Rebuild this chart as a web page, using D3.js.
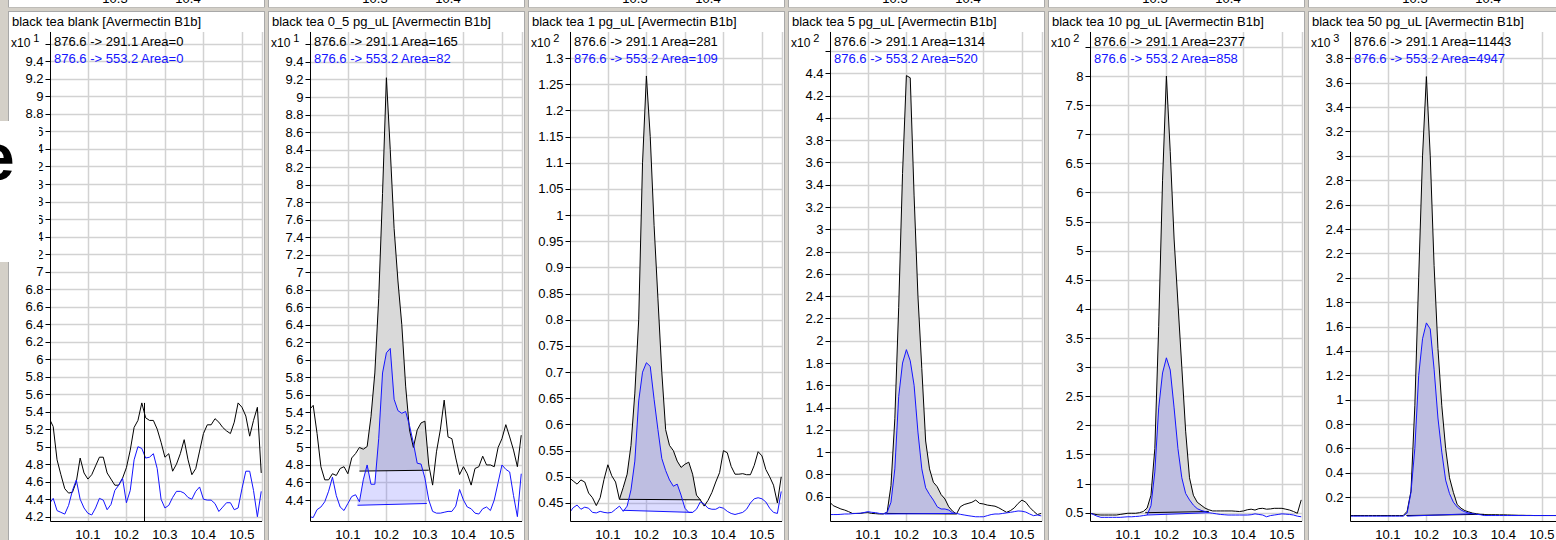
<!DOCTYPE html>
<html lang="en">
<head>
  <meta charset="UTF-8">
  <title>Avermectin B1b - black tea chromatograms</title>
  <script src="https://d3js.org/d3.v7.min.js"></script>
  <style>
    body { margin: 0; background: #d4d0c8; }
    svg { display: block; font-family: "Liberation Sans", Arial, sans-serif; }
  </style>
</head>
<body>
<div id="chart"></div>
<script>
  // retention time grid (min)
  const times = [10.00, 10.01, 10.02, 10.03, 10.04, 10.05, 10.06, 10.07, 10.08, 10.09,
                 10.10, 10.11, 10.12, 10.13, 10.14, 10.15, 10.16, 10.17, 10.18, 10.19,
                 10.20, 10.21, 10.22, 10.23, 10.24, 10.25, 10.26, 10.27, 10.28, 10.29,
                 10.30, 10.31, 10.32, 10.33, 10.34, 10.35, 10.36, 10.37, 10.38, 10.39,
                 10.40, 10.41, 10.42, 10.43, 10.44, 10.45, 10.46, 10.47, 10.48, 10.49,
                 10.50, 10.51, 10.52, 10.53, 10.54, 10.55];

  const titles = ["black tea blank [Avermectin B1b]", "black tea 0_5 pg_uL [Avermectin B1b]",
                  "black tea 1 pg_uL [Avermectin B1b]", "black tea 5 pg_uL [Avermectin B1b]",
                  "black tea 10 pg_uL [Avermectin B1b]", "black tea 50 pg_uL [Avermectin B1b]"];
  const exponents = [1, 1, 2, 2, 2, 3];
  const quantTransition = "876.6 -> 291.1";
  const qualTransition = "876.6 -> 553.2";
  const quantAreas = [0, 165, 281, 1314, 2377, 11443];
  const qualAreas = [0, 82, 109, 520, 858, 4947];

  // 876.6 -> 291.1 (black) and 876.6 -> 553.2 (blue) traces
  const black1 = [5.32, 5.23, 4.85, 4.68, 4.52, 4.47, 4.48, 4.60, 4.87, 4.70,
                  4.63, 4.68, 4.78, 4.88, 4.88, 4.70, 4.63, 4.56, 4.56, 4.64,
                  4.76, 4.96, 5.22, 5.30, 5.50, 5.33, 5.30, 5.30, 5.20, 5.05,
                  4.88, 4.92, 4.72, 4.80, 4.92, 5.08, 4.85, 4.68, 4.75, 4.95,
                  5.15, 5.25, 5.25, 5.32, 5.28, 5.22, 5.18, 5.15, 5.28, 5.50,
                  5.45, 5.35, 5.12, 5.30, 5.45, 4.70];
  const blue1 = [4.35, 4.41, 4.27, 4.25, 4.23, 4.33, 4.50, 4.62, 4.40, 4.30,
                 4.24, 4.22, 4.30, 4.41, 4.39, 4.28, 4.34, 4.50, 4.56, 4.64,
                 4.36, 4.50, 4.85, 5.00, 4.98, 4.87, 4.88, 4.92, 4.75, 4.40,
                 4.30, 4.33, 4.42, 4.49, 4.49, 4.47, 4.42, 4.40, 4.49, 4.54,
                 4.40, 4.39, 4.39, 4.35, 4.26, 4.31, 4.36, 4.36, 4.28, 4.30,
                 4.52, 4.72, 4.72, 4.50, 4.20, 4.49];

  const black2 = [5.43, 5.48, 5.16, 4.78, 4.63, 4.63, 4.70, 4.68, 4.76, 4.78,
                  4.70, 4.88, 4.93, 5.00, 4.98, 5.01, 5.35, 5.85, 6.70, 7.90,
                  9.22, 8.40, 7.50, 6.90, 6.40, 5.70, 5.20, 5.00, 5.20, 5.28,
                  5.30, 4.80, 4.57, 4.95, 5.20, 5.54, 5.12, 5.10, 4.88, 4.69,
                  4.78, 4.70, 4.57, 4.76, 4.78, 4.90, 4.80, 4.80, 4.78, 5.00,
                  5.10, 5.26, 5.12, 4.97, 4.78, 5.14];
  const blue2 = [4.21, 4.20, 4.29, 4.32, 4.38, 4.50, 4.66, 4.45, 4.32, 4.28,
                 4.36, 4.44, 4.46, 4.38, 4.63, 4.80, 4.58, 4.58, 5.10, 5.85,
                 6.08, 6.13, 5.55, 5.42, 5.39, 5.41, 5.25, 5.05, 4.82, 4.81,
                 4.65, 4.40, 4.27, 4.25, 4.25, 4.26, 4.27, 4.27, 4.33, 4.52,
                 4.40, 4.32, 4.30, 4.25, 4.24, 4.30, 4.32, 4.28, 4.40, 4.60,
                 4.80, 4.75, 4.72, 4.45, 4.21, 4.70];

  const black3 = [0.498, 0.492, 0.486, 0.494, 0.490, 0.469, 0.460, 0.445, 0.460, 0.495,
                  0.523, 0.502, 0.490, 0.457, 0.480, 0.505, 0.560, 0.660, 0.800, 1.100,
                  1.266, 1.150, 0.980, 0.840, 0.700, 0.590, 0.560, 0.550, 0.530, 0.518,
                  0.524, 0.528, 0.505, 0.465, 0.456, 0.444, 0.455, 0.470, 0.490, 0.508,
                  0.550, 0.546, 0.520, 0.505, 0.505, 0.506, 0.504, 0.504, 0.522, 0.548,
                  0.540, 0.514, 0.500, 0.484, 0.450, 0.500];
  const blue3 = [0.431, 0.441, 0.446, 0.438, 0.442, 0.440, 0.432, 0.431, 0.434, 0.432,
                 0.431, 0.432, 0.438, 0.444, 0.434, 0.444, 0.475, 0.530, 0.645, 0.700,
                 0.718, 0.711, 0.648, 0.590, 0.535, 0.512, 0.494, 0.482, 0.486, 0.465,
                 0.440, 0.432, 0.432, 0.438, 0.452, 0.448, 0.440, 0.438, 0.438, 0.442,
                 0.440, 0.434, 0.430, 0.428, 0.430, 0.432, 0.438, 0.450, 0.458, 0.460,
                 0.458, 0.452, 0.440, 0.432, 0.430, 0.472];

  const black4 = [0.555, 0.520, 0.505, 0.490, 0.480, 0.466, 0.450, 0.450, 0.450, 0.455,
                  0.457, 0.450, 0.448, 0.445, 0.446, 0.460, 0.700, 1.300, 2.300, 3.500,
                  4.380, 4.360, 3.300, 2.400, 1.750, 1.100, 0.850, 0.730, 0.690, 0.620,
                  0.580, 0.510, 0.470, 0.445, 0.510, 0.530, 0.540, 0.550, 0.570, 0.540,
                  0.535, 0.525, 0.520, 0.515, 0.500, 0.480, 0.460, 0.475, 0.500, 0.540,
                  0.570, 0.550, 0.505, 0.470, 0.440, 0.450];
  const blue4 = [0.440, 0.440, 0.440, 0.442, 0.445, 0.445, 0.448, 0.450, 0.452, 0.458,
                 0.466, 0.460, 0.457, 0.450, 0.445, 0.460, 0.550, 0.850, 1.500, 1.800,
                 1.920, 1.820, 1.600, 1.180, 0.850, 0.680, 0.620, 0.570, 0.510, 0.490,
                 0.490, 0.480, 0.455, 0.450, 0.442, 0.436, 0.430, 0.425, 0.420, 0.420,
                 0.420, 0.430, 0.440, 0.445, 0.445, 0.450, 0.455, 0.460, 0.466, 0.472,
                 0.470, 0.462, 0.445, 0.430, 0.436, 0.428];

  const black5 = [0.490, 0.480, 0.465, 0.460, 0.460, 0.460, 0.460, 0.460, 0.470, 0.480,
                  0.490, 0.490, 0.490, 0.500, 0.520, 0.580, 0.800, 1.600, 3.700, 6.200,
                  8.000, 6.700, 5.200, 4.100, 3.000, 1.900, 1.100, 0.800, 0.680, 0.630,
                  0.580, 0.550, 0.530, 0.530, 0.530, 0.530, 0.530, 0.530, 0.525, 0.520,
                  0.530, 0.550, 0.560, 0.545, 0.570, 0.575, 0.560, 0.565, 0.575, 0.575,
                  0.575, 0.560, 0.545, 0.520, 0.490, 0.720];
  const blue5 = [0.500, 0.470, 0.440, 0.420, 0.420, 0.420, 0.420, 0.420, 0.420, 0.425,
                 0.430, 0.430, 0.435, 0.440, 0.450, 0.460, 0.620, 1.200, 2.300, 2.900,
                 3.160, 2.950, 2.300, 1.600, 1.100, 0.830, 0.720, 0.630, 0.570, 0.540,
                 0.520, 0.500, 0.490, 0.480, 0.470, 0.465, 0.460, 0.460, 0.460, 0.460,
                 0.460, 0.460, 0.465, 0.480, 0.470, 0.460, 0.430, 0.450, 0.460, 0.470,
                 0.480, 0.475, 0.470, 0.460, 0.440, 0.430];

  const black6 = [0.050, 0.050, 0.050, 0.050, 0.050, 0.050, 0.050, 0.050, 0.050, 0.050,
                  0.050, 0.050, 0.050, 0.050, 0.050, 0.085, 0.250, 0.950, 2.000, 3.000,
                  3.650, 3.000, 2.100, 1.420, 0.950, 0.600, 0.360, 0.240, 0.140, 0.110,
                  0.090, 0.080, 0.070, 0.065, 0.060, 0.058, 0.057, 0.057, 0.057, 0.056,
                  0.056, 0.055, 0.054, 0.053, 0.052, 0.052, 0.051, 0.051, 0.050, 0.050,
                  0.050, 0.050, 0.050, 0.050, 0.050, 0.050];
  const blue6 = [0.045, 0.045, 0.045, 0.045, 0.045, 0.045, 0.045, 0.045, 0.045, 0.045,
                 0.045, 0.045, 0.045, 0.045, 0.045, 0.070, 0.240, 0.600, 1.200, 1.500,
                 1.630, 1.580, 1.250, 0.850, 0.570, 0.340, 0.230, 0.160, 0.120, 0.095,
                 0.080, 0.070, 0.065, 0.060, 0.057, 0.050, 0.050, 0.050, 0.050, 0.050,
                 0.050, 0.050, 0.050, 0.050, 0.050, 0.050, 0.050, 0.050, 0.050, 0.050,
                 0.050, 0.050, 0.050, 0.050, 0.050, 0.050];

  // integration baselines [t start, value start, t end, value end]
  const blackBase = [null, [10.13, 4.73, 10.31, 4.74], [10.13, 0.457, 10.341, 0.456],
                     [10.148, 0.45, 10.33, 0.445], [10.145, 0.50, 10.31, 0.52],
                     [10.148, 0.05, 10.35, 0.06]];
  const blueBase = [null, [10.125, 4.34, 10.305, 4.36], [10.14, 0.436, 10.32, 0.432],
                    [10.143, 0.445, 10.323, 0.45], [10.15, 0.46, 10.31, 0.50],
                    [10.15, 0.045, 10.32, 0.065]];
  const rtMarker = [10.245, null, null, null, null, null];
  const rtMarkerTop = 5.5;

  // y axis ticks per panel
  const yTicks1 = [4.2, 4.4, 4.6, 4.8, 5, 5.2, 5.4, 5.6, 5.8, 6, 6.2, 6.4, 6.6, 6.8, 7,
                   7.2, 7.4, 7.6, 7.8, 8, 8.2, 8.4, 8.6, 8.8, 9, 9.2, 9.4, 9.6];
  const yTicks2 = [4.4, 4.6, 4.8, 5, 5.2, 5.4, 5.6, 5.8, 6, 6.2, 6.4, 6.6, 6.8, 7,
                   7.2, 7.4, 7.6, 7.8, 8, 8.2, 8.4, 8.6, 8.8, 9, 9.2, 9.4, 9.6];
  const yTicks3 = [0.45, 0.5, 0.55, 0.6, 0.65, 0.7, 0.75, 0.8, 0.85, 0.9, 0.95, 1,
                   1.05, 1.1, 1.15, 1.2, 1.25, 1.3];
  const yTicks4 = [0.6, 0.8, 1, 1.2, 1.4, 1.6, 1.8, 2, 2.2, 2.4, 2.6, 2.8, 3, 3.2, 3.4,
                   3.6, 3.8, 4, 4.2, 4.4, 4.6];
  const yTicks5 = [0.5, 1, 1.5, 2, 2.5, 3, 3.5, 4, 4.5, 5, 5.5, 6, 6.5, 7, 7.5, 8, 8.5];
  const yTicks6 = [0.2, 0.4, 0.6, 0.8, 1, 1.2, 1.4, 1.6, 1.8, 2, 2.2, 2.4, 2.6, 2.8, 3,
                   3.2, 3.4, 3.6, 3.8];
  const yDomains = [[4.197, 9.736], [4.206, 9.742], [0.4232, 1.350],
                    [0.418, 4.771], [0.426, 8.756], [0.038, 4.016]];
  const xTicks = [10.1, 10.2, 10.3, 10.4, 10.5];
  const xDomain = [10.003, 10.552];
  const upperLabels = ["10.3", "10.4"];

  const blackSeries = [black1, black2, black3, black4, black5, black6];
  const blueSeries = [blue1, blue2, blue3, blue4, blue5, blue6];
  const yTickSets = [yTicks1, yTicks2, yTicks3, yTicks4, yTicks5, yTicks6];

  const width = 1556;
  const height = 540;
  const step = 260;
  const plotTop = 32, plotBottom = 517, axisY = 521.5;
  const plotLeft = 50.5, plotRight = 262;
  const quantColor = "#000";
  const qualColor = "#1414ff";
  const gridColor = "#d2d2d2";

  const svg = d3.select("#chart")
    .append("svg")
    .attr("width", width)
    .attr("height", height);

  svg.append("rect")
    .attr("width", width)
    .attr("height", height)
    .attr("fill", "#d4d0c8");

  // linear interpolation on the time grid
  function valueAt(series, t) {
    const i = Math.max(1, Math.min(times.length - 1, d3.bisectLeft(times, t)));
    const t0 = times[i - 1], t1 = times[i];
    const k = (t - t0) / (t1 - t0);
    return series[i - 1] + k * (series[i] - series[i - 1]);
  }

  function integration(series, base) {
    const pts = [[base[0], base[1]], [base[0], valueAt(series, base[0])]];
    times.forEach((t, j) => {
      if (t > base[0] && t < base[2]) pts.push([t, series[j]]);
    });
    pts.push([base[2], valueAt(series, base[2])], [base[2], base[3]]);
    return pts;
  }

  titles.forEach((title, i) => {
    const g = svg.append("g").attr("transform", `translate(${step * i},0)`);

    // bottom of the panel row above
    g.append("rect")
      .attr("x", 8.5).attr("y", -4)
      .attr("width", 256).attr("height", 11.5)
      .attr("fill", "#fff").attr("stroke", "#a8a8a8");
    g.selectAll(".upper")
      .data(upperLabels)
      .enter()
      .append("text")
      .attr("x", (d, k) => 115 + k * 73)
      .attr("y", 3)
      .attr("text-anchor", "middle")
      .attr("font-size", "13px")
      .attr("fill", "#000")
      .text(d => d);
    g.append("rect")
      .attr("x", 8).attr("y", 7.5)
      .attr("width", 258).attr("height", 3.5)
      .attr("fill", "#d4d0c8");

    // panel
    g.append("rect")
      .attr("x", 8.5).attr("y", 11.5)
      .attr("width", 256).attr("height", 540)
      .attr("fill", "#fff").attr("stroke", "#a8a8a8");

    g.append("text")
      .attr("x", 12).attr("y", 26)
      .attr("font-size", "13px")
      .text(title);

    const x = d3.scaleLinear().domain(xDomain).range([plotLeft, plotRight]);
    const y = d3.scaleLinear().domain(yDomains[i]).range([plotBottom, plotTop]);
    const ticks = yTickSets[i];

    // grid
    g.selectAll(".hgrid")
      .data(ticks)
      .enter()
      .append("line")
      .attr("x1", plotLeft).attr("x2", plotRight)
      .attr("y1", d => Math.round(y(d)) + 0.5)
      .attr("y2", d => Math.round(y(d)) + 0.5)
      .attr("stroke", gridColor).attr("stroke-width", 1.5);
    g.selectAll(".vgrid")
      .data(xTicks)
      .enter()
      .append("line")
      .attr("x1", d => Math.round(x(d)) + 0.5)
      .attr("x2", d => Math.round(x(d)) + 0.5)
      .attr("y1", plotTop).attr("y2", axisY)
      .attr("stroke", gridColor).attr("stroke-width", 1.5);
    g.append("line")
      .attr("x1", plotRight + 0.5).attr("x2", plotRight + 0.5)
      .attr("y1", plotTop).attr("y2", axisY)
      .attr("stroke", gridColor).attr("stroke-width", 1.5);

    // clip
    const clipId = `clip${i}`;
    g.append("clipPath").attr("id", clipId)
      .append("rect")
      .attr("x", plotLeft).attr("y", plotTop)
      .attr("width", plotRight - plotLeft + 1)
      .attr("height", axisY - plotTop);
    const plot = g.append("g").attr("clip-path", `url(#${clipId})`);

    const line = d3.line().x(d => x(d[0])).y(d => y(d[1]));

    // integrated areas
    if (blackBase[i]) {
      plot.append("path")
        .attr("d", line(integration(blackSeries[i], blackBase[i])) + "Z")
        .attr("fill", "#d9d9d9");
    }
    if (blueBase[i]) {
      plot.append("path")
        .attr("d", line(integration(blueSeries[i], blueBase[i])) + "Z")
        .attr("fill", "rgb(88,88,255)").attr("fill-opacity", 0.21);
    }
    if (blackBase[i]) {
      const b = blackBase[i];
      plot.append("path")
        .attr("d", line([[b[0], b[1]], [b[2], b[3]]]))
        .attr("stroke", quantColor).attr("fill", "none");
    }
    if (blueBase[i]) {
      const b = blueBase[i];
      plot.append("path")
        .attr("d", line([[b[0], b[1]], [b[2], b[3]]]))
        .attr("stroke", qualColor).attr("fill", "none");
    }

    // traces
    plot.append("path")
      .datum(times.map((t, j) => [t, blackSeries[i][j]]))
      .attr("d", line)
      .attr("fill", "none").attr("stroke", quantColor).attr("stroke-width", 1);
    plot.append("path")
      .datum(times.map((t, j) => [t, blueSeries[i][j]]))
      .attr("d", line)
      .attr("fill", "none").attr("stroke", qualColor).attr("stroke-width", 1);

    if (rtMarker[i] !== null) {
      g.append("line")
        .attr("x1", Math.round(x(rtMarker[i])) + 0.5)
        .attr("x2", Math.round(x(rtMarker[i])) + 0.5)
        .attr("y1", axisY).attr("y2", y(rtMarkerTop))
        .attr("stroke", "#000");
    }

    // y axis
    g.append("line")
      .attr("x1", plotLeft).attr("x2", plotLeft)
      .attr("y1", plotTop).attr("y2", axisY)
      .attr("stroke", "#000");
    g.selectAll(".ytick")
      .data(ticks)
      .enter()
      .append("line")
      .attr("x1", plotLeft - 5).attr("x2", plotLeft)
      .attr("y1", d => Math.round(y(d)) + 0.5)
      .attr("y2", d => Math.round(y(d)) + 0.5)
      .attr("stroke", "#000");
    g.selectAll(".ylabel")
      .data(ticks.filter(d => y(d) > 55))
      .enter()
      .append("text")
      .attr("x", plotLeft - 7)
      .attr("y", d => y(d) + 4.5)
      .attr("text-anchor", "end")
      .attr("font-size", "13px")
      .text(d => d);

    // x axis
    g.append("line")
      .attr("x1", plotLeft).attr("x2", plotRight)
      .attr("y1", axisY).attr("y2", axisY)
      .attr("stroke", "#000");
    g.selectAll(".xlabel")
      .data(xTicks)
      .enter()
      .append("text")
      .attr("x", d => x(d))
      .attr("y", 538.5)
      .attr("text-anchor", "middle")
      .attr("font-size", "13px")
      .text(d => d);

    // exponent
    const ex = g.append("text")
      .attr("x", 11).attr("y", 47)
      .attr("font-size", "12px")
      .text("x10");
    ex.append("tspan")
      .attr("dx", 3).attr("dy", -5)
      .attr("font-size", "11px")
      .text(exponents[i]);

    // legend
    g.append("text")
      .attr("x", 54).attr("y", 45.5)
      .attr("font-size", "13px")
      .attr("fill", quantColor)
      .text(`${quantTransition} Area=${quantAreas[i]}`);
    g.append("text")
      .attr("x", 54).attr("y", 63)
      .attr("font-size", "13px")
      .attr("fill", qualColor)
      .text(`${qualTransition} Area=${qualAreas[i]}`);
  });

  // slide text box overlapping the first panel
  svg.append("rect")
    .attr("x", 0).attr("y", 121)
    .attr("width", 39).attr("height", 141)
    .attr("fill", "#fff");
  svg.append("text")
    .attr("x", -22).attr("y", 180)
    .attr("font-size", "66px")
    .attr("font-weight", "bold")
    .text("e");
</script>
</body>
</html>
